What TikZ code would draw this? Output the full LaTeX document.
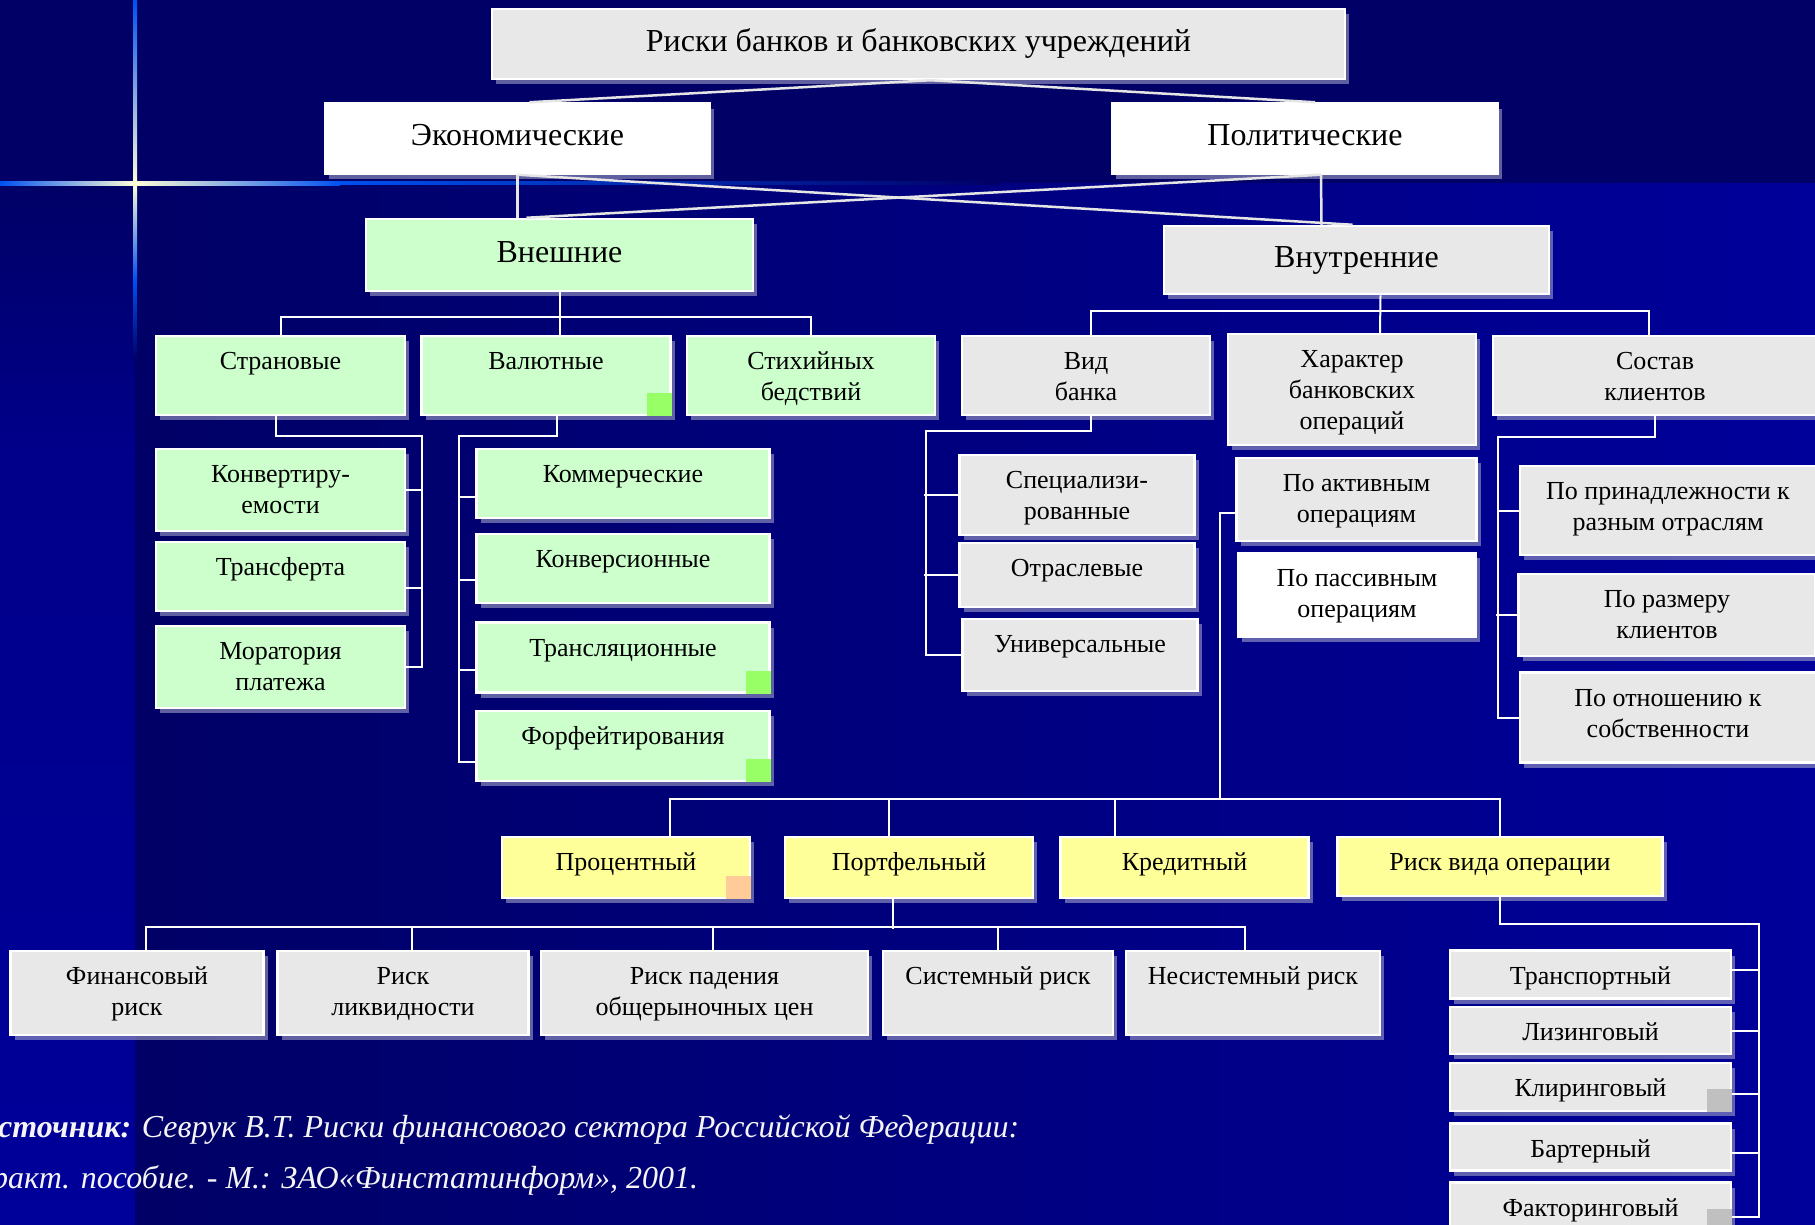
\documentclass[tikz,border=0pt]{standalone}
\usepackage{fontspec}
\setmainfont{Liberation Serif}
\usetikzlibrary{shadows}

\definecolor{bgdark}{HTML}{000066}
\definecolor{bgmid}{HTML}{00008A}
\definecolor{bgbright}{HTML}{00009A}
\definecolor{flareblue}{HTML}{0050F0}
\definecolor{flarecore}{HTML}{FFFFD8}
\definecolor{boxgray}{HTML}{E8E8E8}
\definecolor{boxgreen}{HTML}{CCFFCC}
\definecolor{boxyellow}{HTML}{FFFF99}
\definecolor{markgreen}{HTML}{99FF66}
\definecolor{markorange}{HTML}{FFCC99}
\definecolor{markgray}{HTML}{C0C0C0}
\definecolor{glow}{HTML}{A0A0C8}

% text of a box, hung from the top edge
\newcommand{\rbtext}[2]{\vbox to #1pt{\vskip12pt\hbox{\begin{tabular}{@{}c@{}}#2\end{tabular}}\vfil}}

\begin{document}
\begin{tikzpicture}[
    x=1pt, y=-1pt,
    rbox/.style={draw=white, line width=2.5pt, inner sep=0pt, drop shadow={shadow xshift=4pt, shadow yshift=-5pt, fill=glow, opacity=0.6}, font=\fontsize{26}{31}\selectfont},
    head/.style={rbox, font=\fontsize{32}{38}\selectfont, text height=22pt, text depth=8pt, minimum height=70pt},
    gbox/.style={rbox, fill=boxgray},
    grbox/.style={rbox, fill=boxgreen},
    ybox/.style={rbox, fill=boxyellow},
    wbox/.style={rbox, fill=white},
    bw/.style={minimum width=#1pt},
    link/.style={draw=white, line width=2pt},
    toplink/.style={draw=white!80!gray, line width=2.5pt},
    source/.style={text=white!92!gray, font=\fontsize{32}{52}\selectfont\itshape, inner sep=0pt}
]
\useasboundingbox (0,0) rectangle (1815,1224);

% Background
\fill[bgdark] (0,0) rectangle (1815,1224);
\shade[left color=bgdark, right color=bgbright] (135,183) rectangle (1815,1224);
\shade[top color=bgdark, bottom color=bgmid] (0,183) rectangle (135,450);
\shade[top color=bgmid, bottom color=bgbright] (0,450) rectangle (135,1224);
\shade[left color=flareblue, right color=flarecore] (0,181) rectangle (135,185);
\shade[left color=flarecore, right color=flareblue] (135,181) rectangle (340,185);
\shade[left color=flareblue, right color=bgdark] (340,181.5) rectangle (1000,184.5);
\shade[top color=flareblue, bottom color=flarecore] (133,0) rectangle (137,183);
\shade[top color=flarecore, bottom color=flareblue] (133,183) rectangle (137,280);
\shade[top color=flareblue, bottom color=bgdark] (133.5,280) rectangle (136.5,360);

% Top levels
\node[head, fill=boxgray, bw=853] (title) at (918.5,44) {Риски банков и банковских учреждений};
\node[head, fill=white, bw=385] (econ) at (517.5,138.5) {Экономические};
\node[head, fill=white, bw=386] (polit) at (1305,138.5) {Политические};
\node[head, fill=boxgreen, bw=387, minimum height=72pt] (vnesh) at (559.5,255) {Внешние};
\node[head, fill=boxgray, bw=385, minimum height=68pt] (vnutr) at (1356.5,260) {Внутренние};

% External risks
\node[grbox, bw=249] (strany) at (280.5,375.5) {\rbtext{79}{Страновые}};
\node[grbox, bw=249] (valut) at (546,375.5) {\rbtext{79}{Валютные}};
\node[grbox, bw=248] (stih) at (811,375.5) {\rbtext{79}{Стихийных\\бедствий}};
\node[grbox, bw=249] (konv) at (280.5,490) {\rbtext{82}{Конвертиру-\\емости}};
\node[grbox, bw=249] (transf) at (280.5,576.5) {\rbtext{69}{Трансферта}};
\node[grbox, bw=249] (morat) at (280.5,667) {\rbtext{82}{Моратория\\платежа}};
\node[grbox, bw=293] (komm) at (623,483.5) {\rbtext{69}{Коммерческие}};
\node[grbox, bw=293] (konvers) at (623,568.5) {\rbtext{69}{Конверсионные}};
\node[grbox, bw=293] (transl) at (623,657.5) {\rbtext{70}{Трансляционные}};
\node[grbox, bw=293] (forf) at (623,746) {\rbtext{70}{Форфейтирования}};

% Internal risks
\node[gbox, bw=248] (vid) at (1086,375.5) {\rbtext{79}{Вид\\банка}};
\node[gbox, bw=248] (harakt) at (1352,389.5) {\rbtext{111}{Характер\\банковских\\операций}};
\node[gbox, bw=324] (sostav) at (1655,375.5) {\rbtext{79}{Состав\\клиентов}};
\node[gbox, bw=235] (spec) at (1077,495) {\rbtext{80}{Специализи-\\рованные}};
\node[gbox, bw=235] (otrasl) at (1077,575) {\rbtext{64}{Отраслевые}};
\node[gbox, bw=235] (univ) at (1080,655) {\rbtext{72}{Универсальные}};
\node[gbox, bw=240] (aktiv) at (1356.5,499.5) {\rbtext{83}{По активным\\операциям}};
\node[wbox, bw=238] (passiv) at (1357,595) {\rbtext{84}{По пассивным\\операциям}};
\node[gbox, bw=296] (prin) at (1668,510.5) {\rbtext{89}{По принадлежности к\\разным отраслям}};
\node[gbox, bw=297] (razm) at (1667,615) {\rbtext{82}{По размеру\\клиентов}};
\node[gbox, bw=296] (otnosh) at (1668,717.5) {\rbtext{90}{По отношению к\\собственности}};

% Operations
\node[ybox, bw=248] (proc) at (626,867.5) {\rbtext{61}{Процентный}};
\node[ybox, bw=248] (portf) at (909,867.5) {\rbtext{61}{Портфельный}};
\node[ybox, bw=248] (kred) at (1184.5,867.5) {\rbtext{61}{Кредитный}};
\node[ybox, bw=325] (riskvid) at (1500,866.5) {\rbtext{59}{Риск вида операции}};

% Portfolio risks
\node[gbox, bw=253] (fin) at (137,993) {\rbtext{84}{Финансовый\\риск}};
\node[gbox, bw=251] (likv) at (403,993) {\rbtext{84}{Риск\\ликвидности}};
\node[gbox, bw=327] (pad) at (704.5,993) {\rbtext{84}{Риск падения\\общерыночных цен}};
\node[gbox, bw=230] (sist) at (998,993) {\rbtext{84}{Системный риск}};
\node[gbox, bw=254] (nesist) at (1253,993) {\rbtext{84}{Несистемный риск}};

% Kinds of operation
\node[gbox, bw=281] (transp) at (1590.5,974.5) {\rbtext{48}{Транспортный}};
\node[gbox, bw=281] (lizing) at (1590.5,1030.5) {\rbtext{47}{Лизинговый}};
\node[gbox, bw=281] (kliring) at (1590.5,1087) {\rbtext{48}{Клиринговый}};
\node[gbox, bw=281] (barter) at (1590.5,1147) {\rbtext{47}{Бартерный}};
\node[gbox, bw=281] (faktor) at (1590.5,1206.5) {\rbtext{48}{Факторинговый}};

% Corner marks
\fill[markgreen] (valut.south east) rectangle ++(-25,-23);
\fill[markgreen] (transl.south east) rectangle ++(-25,-23);
\fill[markgreen] (forf.south east) rectangle ++(-25,-23);
\fill[markorange] (proc.south east) rectangle ++(-25,-23);
\fill[markgray] (kliring.south east) rectangle ++(-25,-23);
\fill[markgray] (faktor.south east) rectangle ++(-25,-23);

% Connections
\draw[toplink] ([xshift=12pt]econ.north) -- ([xshift=12pt]title.south) -- ([xshift=10pt]polit.north);
\draw[toplink] (econ.south) -- ([xshift=-42pt]vnesh.north);
\draw[toplink] (econ.south) -- ([xshift=-4pt]vnutr.north);
\draw[toplink] ([xshift=16pt]polit.south) -- ([xshift=-35pt]vnutr.north);
\draw[toplink] ([xshift=16pt]polit.south) -- ([xshift=-33pt]vnesh.north);

\draw[link] (vnesh.south) -- (valut.north -| vnesh.south);
\draw[link] (strany.north) -- ++(0,-18) -| (stih.north);
\draw[link] ([xshift=24pt]vnutr.south) -- ([xshift=28pt]harakt.north);
\draw[link] ([xshift=5pt]vid.north) -- ++(0,-24) -| ([xshift=-6pt]sostav.north);

\draw[link] ([xshift=-5pt]strany.south) -- ++(0,20) -- ++(146.5,0) |- (morat.east);
\draw[link] (konv.east) -- ++(17,0);
\draw[link] ([yshift=-11pt]transf.east) -- ++(17,0);

\draw[link] ([xshift=11pt]valut.south) -- ++(0,20) -- ++(-98,0) |- ([yshift=-16pt]forf.west);
\draw[link] ([yshift=-13pt]komm.west) -- ++(-17.5,0);
\draw[link] ([yshift=-11pt]konvers.west) -- ++(-17.5,0);
\draw[link] ([yshift=-12pt]transl.west) -- ++(-17.5,0);

\draw[link] ([xshift=5pt]vid.south) -- ++(0,15) -- ++(-165,0) |- (univ.west);
\draw[link] (spec.west) -- ++(-34,0);
\draw[link] (otrasl.west) -- ++(-34,0);

\draw[link] (sostav.south) -- ++(0,21) -- ++(-157,0) |- (otnosh.west);
\draw[link] (prin.west) -- ++(-22,0);
\draw[link] (razm.west) -- ++(-21,0);

\coordinate (opbus) at (1220,799);
\draw[link] ([yshift=-13pt]aktiv.west) -| (opbus);
\draw[link] ([xshift=44pt]proc.north) |- (opbus) -| (riskvid.north);
\draw[link] ([xshift=-20pt]portf.north) -- ++(0,-38);
\draw[link] ([xshift=-70pt]kred.north) -- ++(0,-38);

\draw[link] ([xshift=-16pt]portf.south) -- ++(0,30);
\draw[link] ([xshift=9pt]fin.north) -- ++(0,-23) -| ([xshift=-8pt]nesist.north);
\draw[link] ([xshift=9pt]likv.north) -- ++(0,-23);
\draw[link] ([xshift=8pt]pad.north) -- ++(0,-23);
\draw[link] (sist.north) -- ++(0,-23);

\draw[link] (riskvid.south) -- ++(0,27) -- ++(259,0) |- ([yshift=-10pt]faktor.east);
\draw[link] ([yshift=5pt]transp.east) -- ++(28,0);
\draw[link] (lizing.east) -- ++(28,0);
\draw[link] ([yshift=-7pt]kliring.east) -- ++(28,0);
\draw[link] ([yshift=-6pt]barter.east) -- ++(28,0);

% Source
\node[source, anchor=base west] (src1) at (-2,1137) {\textbf{сточник:} Севрук В.Т. Риски финансового сектора Российской Федерации:};
\node[source, anchor=base west] (src2) at (-8,1188) {ракт. пособие. - М.: ЗАО«Финстатинформ», 2001.};

\end{tikzpicture}
\end{document}
